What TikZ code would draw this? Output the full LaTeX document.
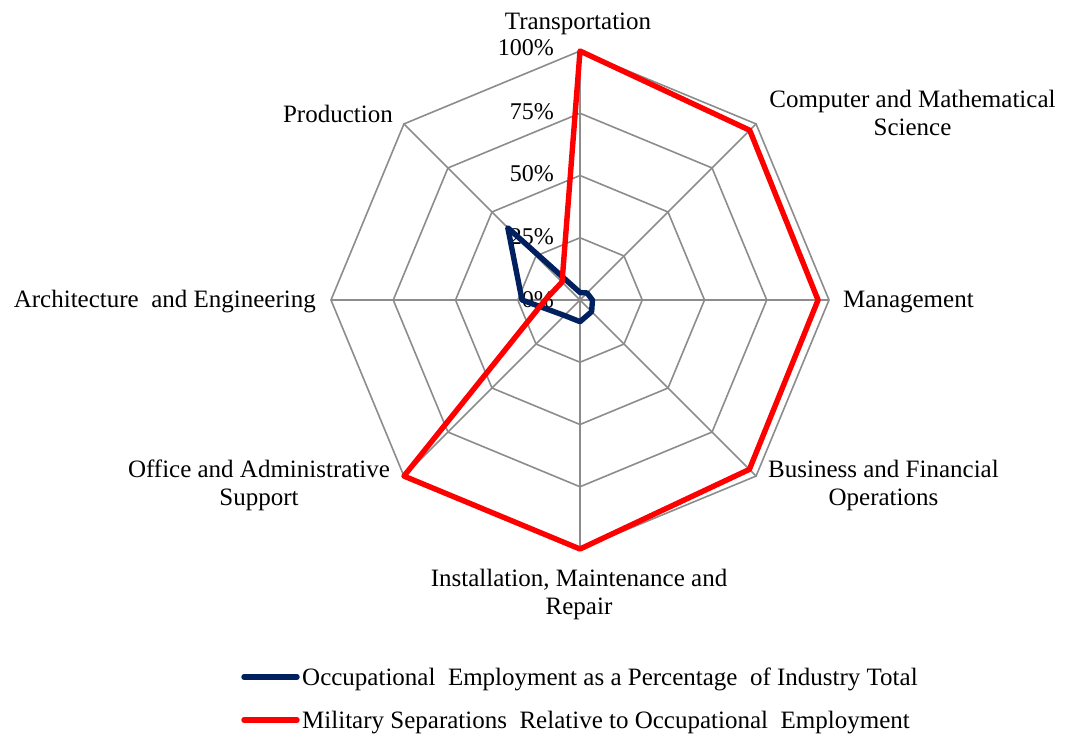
\documentclass[tikz,border=0pt]{standalone}
\usepackage{fontspec}
\setmainfont{Liberation Serif}
\definecolor{gridgray}{HTML}{8C8C8C}
\definecolor{navy}{HTML}{002060}
\definecolor{brightred}{HTML}{FF0000}
\begin{document}
\begin{tikzpicture}[x=1pt,y=-1pt,
  gridline/.style={draw=gridgray, line width=1.6pt},
  lab/.style={font=\fontsize{25}{28.5}\selectfont, inner sep=0pt, align=center},
  pct/.style={font=\fontsize{24}{28}\selectfont, inner sep=0pt, anchor=east},
  blueseries/.style={draw=navy, line width=5.4pt, line join=round},
  redseries/.style={draw=brightred, line width=5.4pt, line join=round},
  legline/.style={line width=5.4pt, line cap=round},
  ]
\useasboundingbox (0,0) rectangle (1065,734);
\def\R{249}
\begin{scope}[shift={(580,300)}]
  % grid rings
  \foreach \f in {0.25,0.5,0.75,1} {
    \draw[gridline] (-90:{\f*\R}) \foreach \a in {-45,0,...,225} { -- (\a:{\f*\R}) } -- cycle;
  }
  % spokes
  \foreach \a in {-90,-45,...,225} {
    \draw[gridline] (0,0) -- (\a:\R);
  }
  % percentage labels
  \node[pct] (p0)   at (-26,  0)            {0\%};
  \node[pct] (p25)  at (-26, {-0.25*\R-1}) {25\%};
  \node[pct] (p50)  at (-26, {-0.5*\R-2})  {50\%};
  \node[pct] (p75)  at (-26, {-0.75*\R-2}) {75\%};
  \node[pct] (p100) at (-26, {-\R-3})      {100\%};
  % blue series vertices
  \coordinate (bT) at (-90:{0.03*\R});
  \coordinate (bC) at (-45:{0.04*\R});
  \coordinate (bM) at (0:{0.05*\R});
  \coordinate (bB) at (45:{0.066*\R});
  \coordinate (bI) at (90:{0.087*\R});
  \coordinate (bO) at (135:{0.088*\R});
  \coordinate (bA) at (180:{0.233*\R});
  \coordinate (bP) at (225:{0.41*\R});
  % red series vertices
  \coordinate (rT) at (-90:{1.0*\R});
  \coordinate (rC) at (-45:{0.964*\R});
  \coordinate (rM) at (0:{0.956*\R});
  \coordinate (rB) at (45:{0.962*\R});
  \coordinate (rI) at (90:{1.0*\R});
  \coordinate (rO) at (135:{1.0*\R});
  \coordinate (rA) at (180:{0.14*\R});
  \coordinate (rP) at (225:{0.102*\R});
  \draw[blueseries] (bT) -- (bC) -- (bM) -- (bB) -- (bI) -- (bO) -- (bA) -- (bP) -- cycle;
  \draw[redseries] (rT) -- (rC) -- (rM) -- (rB) -- (rI) -- (rO) -- (rA) -- (rP) -- cycle;
\end{scope}
% category labels
\node[lab, anchor=base] (transp) at (578,29.5) {Transportation};
\node[lab, anchor=north] (comp) at (912.5,89.5) {Computer and Mathematical\\Science};
\node[lab, anchor=base west] (mgmt) at (843,307.5) {Management};
\node[lab, anchor=north] (bus) at (883.5,459.5) {Business and Financial\\Operations};
\node[lab, anchor=north] (inst) at (579,568.5) {Installation, Maintenance and\\Repair};
\node[lab, anchor=north] (office) at (259,459.5) {Office and Administrative\\Support};
\node[lab, anchor=base east] (arch) at (316,307.5) {Architecture\ \ and Engineering};
\node[lab, anchor=base east] (prod) at (393,122) {Production};
% legend
\coordinate (l1a) at (244,677);
\coordinate (l1b) at (297,677);
\coordinate (l2a) at (244,720);
\coordinate (l2b) at (297,720);
\draw[legline, draw=navy] (l1a) -- (l1b);
\draw[legline, draw=brightred] (l2a) -- (l2b);
\node[lab, anchor=base west] (leg1) at (302,685) {Occupational\ \ Employment as a Percentage\ \ of Industry Total};
\node[lab, anchor=base west] (leg2) at (302,728) {Military Separations\ \ Relative to Occupational\ \ Employment};
\end{tikzpicture}
\end{document}
